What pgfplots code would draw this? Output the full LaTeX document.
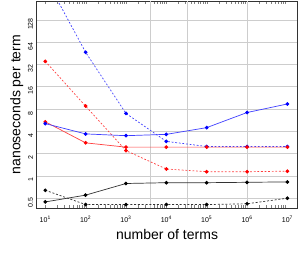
\documentclass[border=0pt]{standalone}
\usepackage{fontspec}
\setmainfont{Liberation Sans}
\usepackage{pgfplots}
\pgfplotsset{compat=1.18}
\usetikzlibrary{calc}
\definecolor{gridc}{RGB}{205,205,205}
\begin{document}
\begin{tikzpicture}
\begin{axis}[
  scale only axis, width=260.7pt, height=207pt,
  xmode=log, ymode=log, log basis y=2,
  xmin=6.08, xmax=1.78e7, ymin=0.366, ymax=232,
  xtick={10,100,1000,10000,100000,1000000,10000000},
  xticklabels={10\textsuperscript{1},10\textsuperscript{2},10\textsuperscript{3},10\textsuperscript{4},10\textsuperscript{5},10\textsuperscript{6},10\textsuperscript{7}},
  ytick={0.5,1,2,4,8,16,32,64,128},
  yticklabels={0.5,1,2,4,8,16,32,64,128},
  minor tick num=0, major tick length=0pt,
  extra x ticks={4074,33113,1000000}, extra x tick labels={},
  extra x tick style={grid=major, major grid style={gridc, line width=0.8pt}},
  ymajorgrids, major grid style={gridc, line width=0.8pt},
  xticklabel style={font=\fontsize{7}{8}\selectfont, yshift=-4pt},
  yticklabel style={font=\fontsize{7}{8}\selectfont, rotate=90, anchor=south, xshift=-4pt},
  axis line style={black!80, line width=0.8pt},
  xlabel={number of terms}, ylabel={nanoseconds per term},
  xlabel style={font=\fontsize{14}{16}\selectfont, yshift=0pt},
  ylabel style={font=\fontsize{14}{16}\selectfont, yshift=-2pt},
  clip=true,
  every axis plot/.append style={line width=0.7pt, mark=*, mark size=1.5pt},
]
% blue dashed
\addplot[blue!75, dash pattern=on 1.8pt off 1.8pt, mark options={blue, solid}] coordinates {
 (10,480) (100,47) (1000,7.0) (10000,2.93) (100000,2.5) (1000000,2.5) (10000000,2.5)};
% red dashed
\addplot[red!75, dash pattern=on 1.8pt off 1.8pt, mark options={red, solid}] coordinates {
 (10,35.5) (100,8.8) (1000,2.2) (10000,1.24) (100000,1.14) (1000000,1.14) (10000000,1.16)};
% red solid
\addplot[red!75, mark options={red}] coordinates {
 (10,5.4) (100,2.8) (1000,2.45) (10000,2.45) (100000,2.45) (1000000,2.45) (10000000,2.45)};
% blue solid
\addplot[blue!75, mark options={blue}] coordinates {
 (10,5.1) (100,3.7) (1000,3.5) (10000,3.65) (100000,4.5) (1000000,7.2) (10000000,9.4)};
% black solid
\addplot[black!80, mark options={black}] coordinates {
 (10,0.445) (100,0.55) (1000,0.79) (10000,0.81) (100000,0.81) (1000000,0.82) (10000000,0.83)};
% black dashed
\addplot[black!80, dash pattern=on 2pt off 1.8pt, mark options={black, solid}] coordinates {
 (10,0.64) (100,0.41) (1000,0.41) (10000,0.41) (100000,0.41) (1000000,0.42) (10000000,0.5)};
\end{axis}
\pgfresetboundingbox
\useasboundingbox ($(current axis.south west)+(-36.5pt,-49pt)$) rectangle ($(current axis.north east)+(2.5pt,1pt)$);
\end{tikzpicture}
\end{document}
